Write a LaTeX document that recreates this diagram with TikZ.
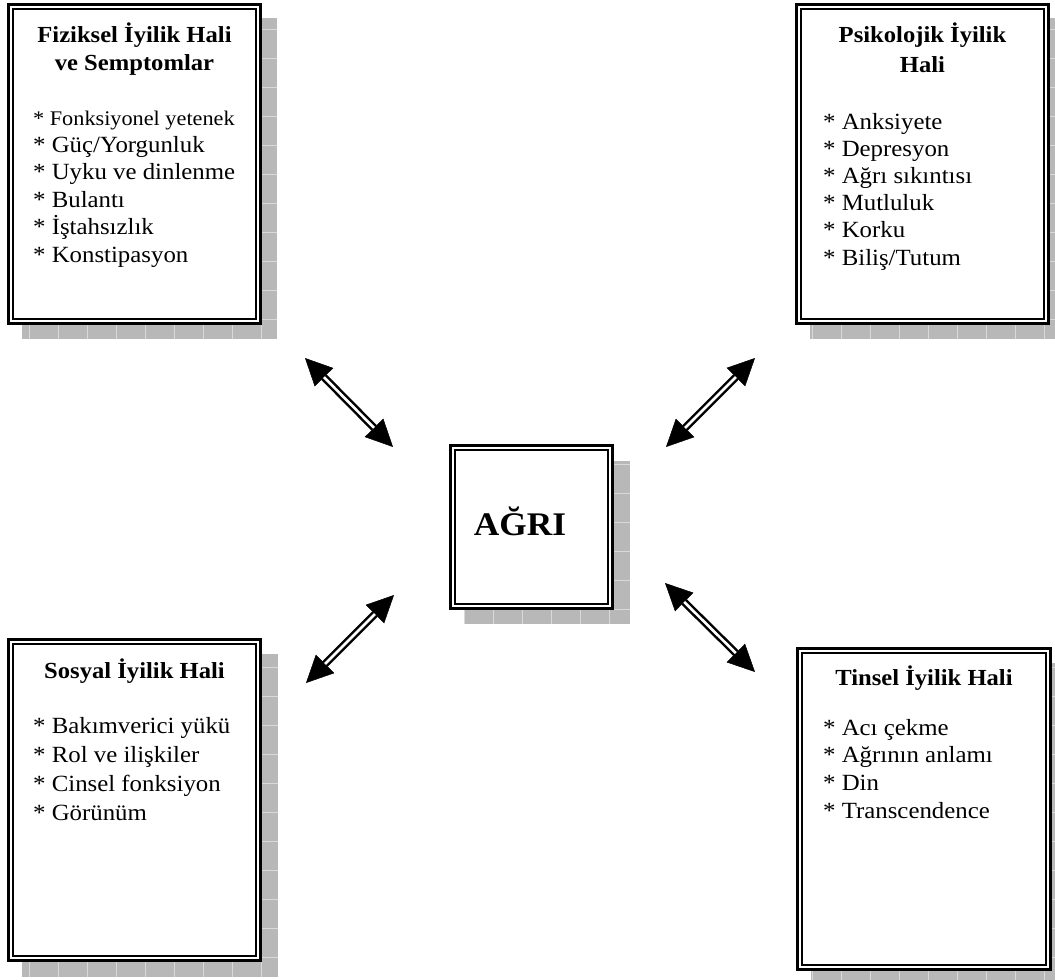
\documentclass[tikz,border=0pt]{standalone}
\usepackage{fontspec}
\setmainfont{Liberation Serif}[FakeStretch=1.07]
\usetikzlibrary{arrows.meta}
\newcommand{\stacklines}[2]{\vtop{\baselineskip=#1\lineskiplimit=-\maxdimen\lineskip=0pt #2}}
\newcommand{\mkshadow}[4]{%
  \begin{scope}
    \clip (#1,#2) rectangle (#3,#4);
    \fill[shadowfill] (#1,#2) rectangle (#3,#4);
    \draw[gridline] (#1,#2) grid[step=29pt] (#3,#4);
    \draw[draw=white, line width=1pt] (#1,#2) -- (#3,#2);
  \end{scope}}
\begin{document}
\begin{tikzpicture}[x=1pt,y=-1pt,
  shadowfill/.style={fill=black!28},
  gridline/.style={draw=black!15, line width=0.8pt},
  boxsty/.style={draw=black, line width=2.6pt, double=white, double distance=2.2pt,
                 fill=white, inner sep=0pt, outer sep=0pt},
  titlesty/.style={font=\fontsize{23}{29}\selectfont\bfseries, inner sep=0pt, anchor=base},
  liststy/.style={font=\fontsize{23.2}{27}\selectfont, inner sep=0pt, anchor=base west},
  arrouter/.style={draw=black, line width=7.6pt, {Triangle[length=27pt, width=26pt, line width=0.5pt]}-{Triangle[length=27pt, width=26pt, line width=0.5pt]}},
  arrinner/.style={draw=white, line width=2.6pt, shorten <=27pt, shorten >=27pt}
]
\useasboundingbox (0,0) rectangle (1055,980);
\begin{scope}
\clip (0,0) rectangle (1055,980);
% shadows
\mkshadow{22}{17}{277}{339}
\mkshadow{810}{17}{1065}{339}
\mkshadow{464}{460}{630}{624}
\mkshadow{22}{653}{278}{977}
\mkshadow{811}{662}{1067}{990}

% boxes
\node[boxsty, minimum width=247.6pt, minimum height=314.6pt] (fiz) at (134.5,164) {};
\node[boxsty, minimum width=247.6pt, minimum height=314.6pt] (psi) at (922.5,164) {};
\node[boxsty, minimum width=157.6pt, minimum height=158.6pt] (agri) at (531.5,527) {};
\node[boxsty, minimum width=247.6pt, minimum height=316.6pt] (sos) at (134.5,800) {};
\node[boxsty, minimum width=248.6pt, minimum height=316.6pt] (tin) at (924,809) {};
\end{scope}

% texts
\node[titlesty] (fizt1) at (134.5,42) {Fiziksel İyilik Hali};
\node[titlesty] (fizt2) at (134.5,70) {ve Semptomlar};
\node[liststy] (fizl) at (33,125) {\stacklines{27.4pt}{%
  \hbox{\fontsize{20.8}{26}\selectfont * Fonksiyonel yetenek}
  \hbox{* Güç/Yorgunluk}
  \hbox{* Uyku ve dinlenme}
  \hbox{* Bulantı}
  \hbox{* İştahsızlık}
  \hbox{* Konstipasyon}}};

\node[titlesty] (psit1) at (922.5,42) {Psikolojik İyilik};
\node[titlesty] (psit2) at (922.5,72) {Hali};
\node[liststy] (psil) at (823,129) {\stacklines{27.2pt}{%
  \hbox{* Anksiyete}
  \hbox{* Depresyon}
  \hbox{* Ağrı sıkıntısı}
  \hbox{* Mutluluk}
  \hbox{* Korku}
  \hbox{* Biliş/Tutum}}};

\node[font=\fontsize{33}{38}\selectfont\bfseries, inner sep=0pt, anchor=base] (agrit) at (520,535) {AĞRI};

\node[titlesty] (sost) at (134.5,678) {Sosyal İyilik Hali};
\node[liststy] (sosl) at (33,733) {\stacklines{29.3pt}{%
  \hbox{* Bakımverici yükü}
  \hbox{* Rol ve ilişkiler}
  \hbox{* Cinsel fonksiyon}
  \hbox{* Görünüm}}};

\node[titlesty] (tint) at (924,685) {Tinsel İyilik Hali};
\node[liststy] (tinl) at (823,735) {\stacklines{27.7pt}{%
  \hbox{* Acı çekme}
  \hbox{* Ağrının anlamı}
  \hbox{* Din}
  \hbox{* Transcendence}}};

% arrows
\coordinate (a1s) at (305,358);
\coordinate (a1e) at (393,447);
\coordinate (a2s) at (755,358);
\coordinate (a2e) at (666,447);
\coordinate (a3s) at (306,683);
\coordinate (a3e) at (394,595);
\coordinate (a4s) at (665,583);
\coordinate (a4e) at (755,672);
\foreach \s/\e in {a1s/a1e, a2s/a2e, a3s/a3e, a4s/a4e} {
  \draw[arrouter] (\s) -- (\e);
  \draw[arrinner] (\s) -- (\e);
}
\end{tikzpicture}
\end{document}
